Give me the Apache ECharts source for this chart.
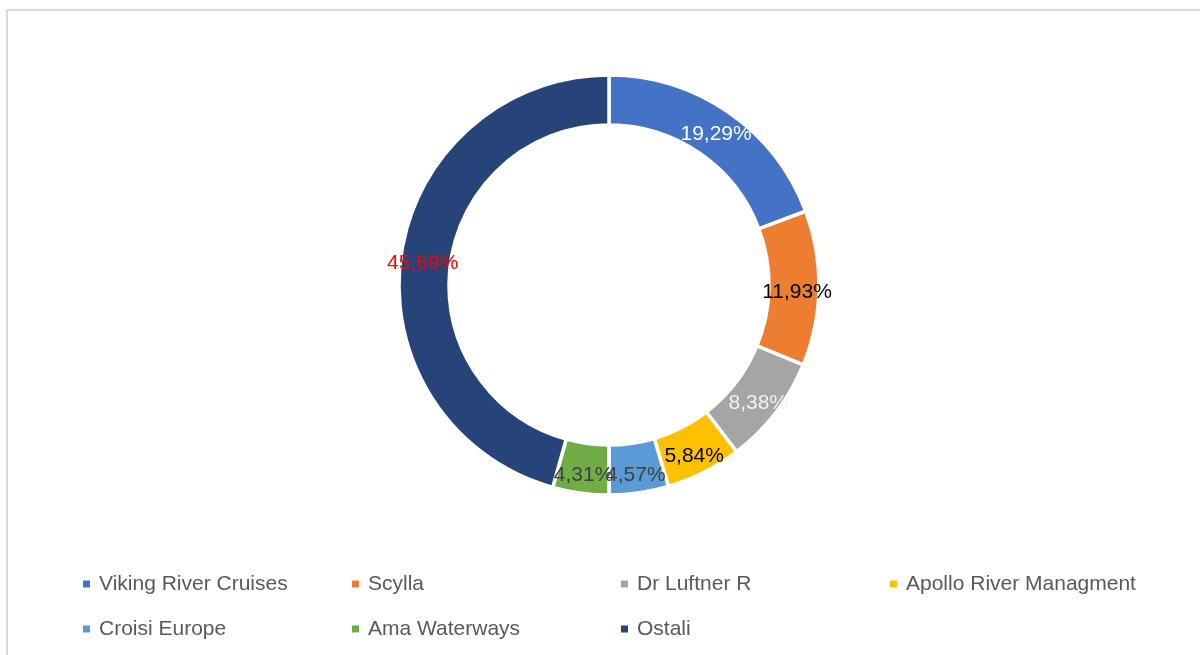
<!DOCTYPE html>
<html>
<head>
<meta charset="utf-8">
<script src="https://cdn.jsdelivr.net/npm/echarts@6/dist/echarts.min.js"></script>
<style>
  html, body { margin: 0; padding: 0; background: #fff; }
  #chart { width: 1200px; height: 655px; }
</style>
</head>
<body>
<div id="chart"></div>
<script>
const names = ["Viking River Cruises", "Scylla", "Dr Luftner R", "Apollo River Managment", "Croisi Europe", "Ama Waterways", "Ostali"];
const shares = [19.29, 11.93, 8.38, 5.84, 4.57, 4.31, 45.69];
const colors = ["#4472c4", "#ed7d31", "#a5a5a5", "#ffc000", "#5b9bd5", "#70ad47", "#264478"];
const labelColors = ["#ffffff", "#000000", "#f2f2f2", "#000000", "#404040", "#404040", "#ff0000"];

const chart = echarts.init(document.getElementById("chart"));

const option = {
  animation: false,
  textStyle: { fontFamily: "Liberation Sans" },
  graphic: [
    {
      type: "rect",
      shape: { x: 7, y: 10, width: 1210, height: 700 },
      style: { fill: "none", stroke: "#d9d9d9", lineWidth: 2 },
      silent: true,
    },
  ],
  legend: {
    left: 76,
    top: 565,
    width: 1110,
    itemWidth: 9,
    itemHeight: 9,
    itemGap: 17,
    icon: "rect",
    data: names,
    textStyle: {
      color: "#595959",
      fontSize: 21,
      lineHeight: 28,
      width: 234,
      padding: [0, 0, 0, 3],
    },
  },
  series: [
    {
      type: "pie",
      center: [609, 285],
      radius: [160, 210],
      startAngle: 90,
      avoidLabelOverlap: false,
      itemStyle: { borderColor: "#fff", borderWidth: 3.5 },
      label: {
        show: true,
        position: "inside",
        fontSize: 21,
        offset: [0, 4],
        formatter: p => p.value.toFixed(2).replace(".", ",") + "%",
      },
      labelLayout: { hideOverlap: false },
      labelLine: { show: false },
      data: names.map((n, i) => ({
        name: n,
        value: shares[i],
        itemStyle: { color: colors[i] },
        label: { color: labelColors[i] },
      })),
    },
  ],
};

chart.setOption(option);
</script>
</body>
</html>
